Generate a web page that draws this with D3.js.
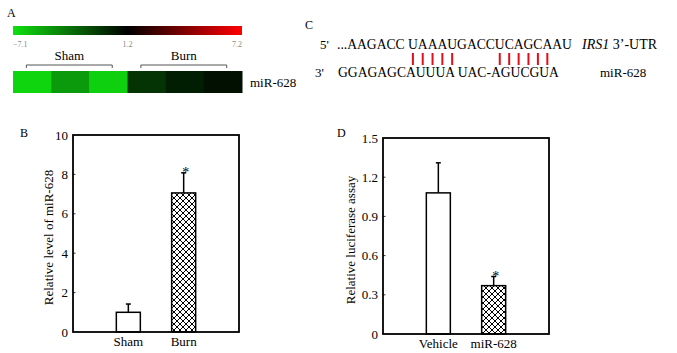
<!DOCTYPE html>
<html>
<head>
<meta charset="utf-8">
<script src="https://cdn.jsdelivr.net/npm/d3@7"></script>
<style>
  body { margin: 0; background: #fff; }
  text { font-family: "Liberation Serif", "Times New Roman", serif; fill: #000; }
</style>
</head>
<body>
<svg id="fig" width="677" height="353"></svg>
<script>
// panel A: heat map of miR-628
const heatGroups = ["Sham", "Sham", "Sham", "Burn", "Burn", "Burn"];
const heatValues = [-6.7, -4.5, -6.5, -0.7, 0.1, 0.6];
const scaleTicks = [-7.1, 1.2, 7.2];

// panel B: relative level of miR-628
const groupsB = ["Sham", "Burn"];
const valuesB = [1.0, 7.06];
const errorsB = [0.42, 1.02];
const starsB = [false, true];
const ticksB = [0, 2, 4, 6, 8, 10];

// panel C: IRS1 3'-UTR / miR-628 pairing
const utrSeq = "...AAGACC UAAAUGACCUCAGCAAU";
const mirSeq = "GGAGAGCAUUUA UAC-AGUCGUA";
const pairIdx = [10, 11, 12, 13, 14, 19, 20, 21, 22, 23, 24];

// panel D: luciferase assay
const groupsD = ["Vehicle", "miR-628"];
const valuesD = [1.08, 0.37];
const errorsD = [0.23, 0.07];
const starsD = [false, true];
const ticksD = [0, 0.3, 0.6, 0.9, 1.2, 1.5];

const svg = d3.select("#fig");
const defs = svg.append("defs");

// crosshatch pattern
const pat = defs.append("pattern").attr("id", "hatch")
    .attr("patternUnits", "userSpaceOnUse").attr("width", 6).attr("height", 6);
pat.append("rect").attr("width", 6).attr("height", 6).attr("fill", "#fff");
pat.append("path").attr("d", "M0,0L6,6M6,0L0,6M-1,5L1,7M5,-1L7,1M-1,1L1,-1M5,7L7,5")
    .attr("stroke", "#000").attr("stroke-width", 1);

function panelLabel(x, y, t) {
    svg.append("text").attr("x", x).attr("y", y).attr("font-size", 12).text(t);
}

// ---------- A ----------
panelLabel(7, 17, "A");
const ax0 = 13, ax1 = 242;
const colorX = d3.scaleLinear().domain(scaleTicks).range([ax0, (ax0 + ax1) / 2, ax1]);
const color = d3.scaleLinear().domain(scaleTicks).range(["#10e010", "#000000", "#ff0000"]);

const grad = defs.append("linearGradient").attr("id", "cbar");
scaleTicks.forEach(v => {
    grad.append("stop")
        .attr("offset", (colorX(v) - ax0) / (ax1 - ax0))
        .attr("stop-color", color(v));
});
svg.append("rect").attr("x", ax0).attr("y", 26).attr("width", ax1 - ax0).attr("height", 9)
    .attr("fill", "url(#cbar)");
svg.selectAll(null).data(scaleTicks).enter().append("text")
    .attr("x", d => colorX(d)).attr("y", 47)
    .attr("text-anchor", (d, i) => i === 0 ? "start" : i === 2 ? "end" : "middle")
    .attr("font-size", 8).style("fill", "#888")
    .text(d => d3.format(".1f")(d));

const cellX = d3.scaleBand().domain(d3.range(heatValues.length)).range([ax0, ax1]);
svg.selectAll(null).data(heatValues).enter().append("rect")
    .attr("x", (d, i) => cellX(i)).attr("y", 71)
    .attr("width", cellX.bandwidth() + 0.5).attr("height", 22)
    .attr("fill", d => color(d));

["Sham", "Burn"].forEach(gname => {
    const idx = heatGroups.map((g, i) => g === gname ? i : -1).filter(i => i >= 0);
    const x1 = cellX(idx[0]) + cellX.bandwidth() * 0.35;
    const x2 = cellX(idx[idx.length - 1]) + cellX.bandwidth() * 0.6;
    svg.append("path").attr("d", `M${x1},68V65H${x2}V68`)
        .attr("fill", "none").attr("stroke", "#555").attr("stroke-width", 1);
    svg.append("text").attr("x", (x1 + x2) / 2).attr("y", 60)
        .attr("text-anchor", "middle").attr("font-size", 13).text(gname);
});
svg.append("text").attr("x", 250).attr("y", 87).attr("font-size", 13).text("miR-628");

// ---------- C ----------
panelLabel(305, 29, "C");
svg.append("text").attr("x", 320).attr("y", 49).attr("font-size", 13).text("5'");
const utr = svg.append("text").attr("x", 337).attr("y", 49).attr("font-size", 13.6).text(utrSeq);
const utrLab = svg.append("text").attr("x", 582).attr("y", 49).attr("font-size", 14);
utrLab.append("tspan").attr("font-style", "italic").text("IRS1");
utrLab.append("tspan").text(" 3\u2019-UTR");
svg.append("text").attr("x", 315).attr("y", 77).attr("font-size", 13).text("3'");
svg.append("text").attr("x", 338).attr("y", 77).attr("font-size", 13.6).text(mirSeq);
svg.append("text").attr("x", 600).attr("y", 77).attr("font-size", 13).text("miR-628");

const un = utr.node();
svg.selectAll(null).data(pairIdx).enter().append("line")
    .attr("x1", d => (un.getStartPositionOfChar(d).x + un.getEndPositionOfChar(d).x) / 2)
    .attr("x2", d => (un.getStartPositionOfChar(d).x + un.getEndPositionOfChar(d).x) / 2)
    .attr("y1", 53).attr("y2", 65)
    .attr("stroke", "#e0101a").attr("stroke-width", 2);

// ---------- bar panels ----------
function barPanel(o) {
    const { left, right, top, bottom, groups, values, errors, stars, ticks, ylabel, ylabX } = o;
    const x = d3.scalePoint().domain(groups).range([left, right]).padding(1);
    const y = d3.scaleLinear().domain([ticks[0], ticks[ticks.length - 1]]).range([bottom, top]);
    const bw = 24;
    const g = svg.append("g");

    g.selectAll(null).data(groups).enter().append("line")
        .attr("x1", d => x(d)).attr("x2", d => x(d))
        .attr("y1", (d, i) => y(values[i])).attr("y2", (d, i) => y(values[i] + errors[i]))
        .attr("stroke", "#000").attr("stroke-width", 1.5);
    g.selectAll(null).data(groups).enter().append("line")
        .attr("x1", d => x(d) - 2.5).attr("x2", d => x(d) + 2.5)
        .attr("y1", (d, i) => y(values[i] + errors[i])).attr("y2", (d, i) => y(values[i] + errors[i]))
        .attr("stroke", "#000").attr("stroke-width", 1.5);

    g.selectAll(null).data(groups).enter().append("rect")
        .attr("x", d => x(d) - bw / 2).attr("width", bw)
        .attr("y", (d, i) => y(values[i])).attr("height", (d, i) => bottom - y(values[i]))
        .attr("fill", (d, i) => i === 0 ? "#fff" : "url(#hatch)")
        .attr("stroke", "#000").attr("stroke-width", 1.5);

    g.selectAll(null).data(groups.filter((d, i) => stars[i])).enter().append("text")
        .attr("x", d => x(d) + 2).attr("y", d => y(values[groups.indexOf(d)] + errors[groups.indexOf(d)]) + 4)
        .attr("text-anchor", "middle").attr("font-size", 14).text("*");

    // small inward ticks on the left edge
    g.selectAll(null).data(ticks.slice(1, -1)).enter().append("line")
        .attr("x1", left).attr("x2", left + 2.5)
        .attr("y1", d => y(d)).attr("y2", d => y(d))
        .attr("stroke", "#000").attr("stroke-width", 0.8);

    g.append("rect").attr("x", left).attr("y", top)
        .attr("width", right - left).attr("height", bottom - top)
        .attr("fill", "none").attr("stroke", "#000").attr("stroke-width", 1.8);

    g.selectAll(null).data(ticks).enter().append("text")
        .attr("x", left - 5).attr("y", d => y(d) + 4.5)
        .attr("text-anchor", "end").attr("font-size", 13)
        .text(d => d);

    g.selectAll(null).data(groups).enter().append("text")
        .attr("x", d => x(d)).attr("y", bottom + 14)
        .attr("text-anchor", "middle").attr("font-size", 13).text(d => d);

    g.append("text")
        .attr("transform", `translate(${ylabX},${(top + bottom) / 2 + 4}) rotate(-90)`)
        .attr("text-anchor", "middle").attr("font-size", 13).text(ylabel);
}

panelLabel(20, 137, "B");
barPanel({ left: 73, right: 239, top: 135, bottom: 332, groups: groupsB, values: valuesB,
    errors: errorsB, stars: starsB, ticks: ticksB, ylabel: "Relative level  of miR-628", ylabX: 53 });

panelLabel(337, 137, "D");
barPanel({ left: 383, right: 549, top: 138, bottom: 334, groups: groupsD, values: valuesD,
    errors: errorsD, stars: starsD, ticks: ticksD, ylabel: "Relative luciferase assay", ylabX: 355 });
</script>
</body>
</html>
